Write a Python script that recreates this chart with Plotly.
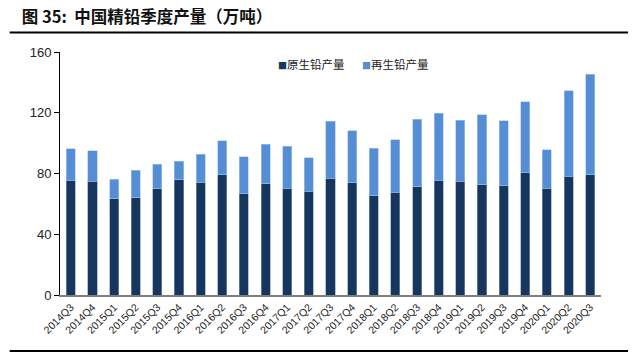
import plotly.graph_objects as go

quarters = ["2014Q3", "2014Q4", "2015Q1", "2015Q2", "2015Q3", "2015Q4", "2016Q1", "2016Q2",
            "2016Q3", "2016Q4", "2017Q1", "2017Q2", "2017Q3", "2017Q4", "2018Q1", "2018Q2",
            "2018Q3", "2018Q4", "2019Q1", "2019Q2", "2019Q3", "2019Q4", "2020Q1", "2020Q2",
            "2020Q3"]
primary = [75.4, 75.0, 63.5, 64.0, 69.9, 75.8, 74.1, 79.1, 66.6, 73.4, 70.3, 68.3, 76.9,
           73.8, 65.3, 67.5, 71.2, 75.6, 74.9, 72.5, 71.9, 80.4, 70.3, 78.2, 79.1]
secondary = [20.8, 20.0, 12.8, 18.0, 16.2, 12.3, 18.6, 22.4, 24.4, 25.9, 27.7, 22.2, 37.6,
             34.5, 31.4, 34.7, 44.6, 44.2, 40.2, 46.2, 43.0, 46.8, 25.3, 56.3, 66.1]

y_ticks = [0, 40, 80, 120, 160]
series_names = ["原生铅产量", "再生铅产量"]
series_colors = ["#17365D", "#558ED5"]
edge_colors = ["#7f9cc0", "#a9c6ec"]
title_text = "<b>图 35:  中国精铅季度产量（万吨）</b>"

fig = go.Figure()
for vals, name, col, edge in zip([primary, secondary], series_names, series_colors, edge_colors):
    fig.add_trace(go.Bar(x=quarters, y=vals, name=name, showlegend=False,
                         marker=dict(color=col, line=dict(color=edge, width=0.6))))

# legend drawn as text annotations (small square + label)
legend_x = [0.40, 0.555]
for name, col, lx in zip(series_names, series_colors, legend_x):
    fig.add_annotation(xref="paper", yref="paper", x=lx, y=0.95, xanchor="left",
                       yanchor="middle", showarrow=False,
                       text=f'<span style="color:{col};font-size:9px">■</span>{name}',
                       font=dict(family="Noto Sans CJK SC", size=11.5, color="#222"))

fig.update_layout(
    barmode="stack",
    bargap=0.58,
    width=641, height=353,
    margin=dict(l=60, r=40, t=52, b=58),
    paper_bgcolor="white", plot_bgcolor="white",
    font=dict(family="Liberation Sans, Arial, sans-serif", color="#222", size=11),
    title=dict(text=title_text, x=0.034, xanchor="left", y=0.952, yanchor="middle",
               font=dict(family="Noto Sans CJK SC, Liberation Sans", size=16.5, color="#111")),
    showlegend=False,
)
fig.update_yaxes(range=[0, 160], tickvals=y_ticks, showline=True, linecolor="#000",
                 linewidth=1, ticks="outside", ticklen=5, tickcolor="#000",
                 showgrid=False, zeroline=False, tickfont=dict(size=13))
fig.update_xaxes(showline=True, linecolor="#7f7f7f", linewidth=2, ticks="",
                 tickangle=-45, showgrid=False, tickfont=dict(size=10.5))

fig.add_shape(type="line", xref="paper", yref="paper", x0=-0.093, x1=1.05, y0=1.08, y1=1.08,
              line=dict(color="#000", width=2))
fig.add_shape(type="line", xref="paper", yref="paper", x0=-0.093, x1=1.05, y0=-0.23, y1=-0.23,
              line=dict(color="#000", width=2))

fig.write_html("out.html")
